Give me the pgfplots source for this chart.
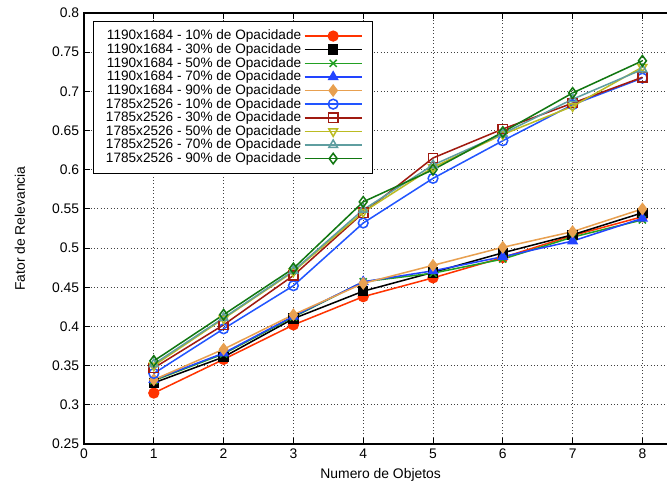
\documentclass[border=0pt]{standalone}
\usepackage{pgfplots}
\pgfplotsset{compat=1.18}
\usepackage{fontspec}
\setmainfont{Liberation Sans}
\definecolor{cA}{HTML}{FF3300}
\definecolor{cB}{HTML}{000000}
\definecolor{cC}{HTML}{22A022}
\definecolor{cD}{HTML}{2244FF}
\definecolor{cE}{HTML}{E8A050}
\definecolor{cF}{HTML}{2255FF}
\definecolor{cG}{HTML}{A01A10}
\definecolor{cH}{HTML}{BBBB22}
\definecolor{cI}{HTML}{5F9EA0}
\definecolor{cJ}{HTML}{117711}
\begin{document}
\begin{tikzpicture}
\begin{axis}[
  scale only axis, width=427.2pt, height=310.3pt,
  xmin=0, xmax=8.5, ymin=0.25, ymax=0.8,
  xtick={0,1,2,3,4,5,6,7,8},
  ytick={0.25,0.3,0.35,0.4,0.45,0.5,0.55,0.6,0.65,0.7,0.75,0.8},
  grid=major, grid style={black!75, dotted, line width=0.6pt},
  axis line style={line width=0.9pt},
  tick style={black, line width=0.6pt},
  /pgf/number format/assume math mode=true,
  yticklabel style={/pgf/number format/fixed, /pgf/number format/precision=2},
  ticklabel style={font=\fontsize{10}{12}\selectfont},
  label style={font=\fontsize{10}{12}\selectfont},
  xlabel={Numero de Objetos},
  ylabel={Fator de Relevancia},
  ylabel style={at={(axis description cs:-0.108,0.5)}, anchor=center},
  legend plot pos=right,
  legend cell align=right,
  legend style={at={(0,1)}, anchor=north west, xshift=6.5pt, yshift=-5.5pt,
    draw=black, line width=0.6pt, fill=white, font=\fontsize{9.8}{11}\selectfont,
    row sep=-2.8pt, inner xsep=7pt, inner ysep=4.5pt},
  legend image code/.code={\draw[mark repeat=2,mark phase=2] plot coordinates {(0cm,0cm) (0.72cm,0cm) (1.44cm,0cm)};},
  every axis plot/.append style={line width=1.1pt},
]
\coordinate (sw) at (rel axis cs:0,0);
\addplot[color=cA, mark=*, mark size=3.5pt] coordinates {(1,0.315) (2,0.358) (3,0.402) (4,0.438) (5,0.462) (6,0.488) (7,0.516) (8,0.540)};
\addlegendentry{1190x1684 - 10\% de Opacidade}
\addplot[color=cB, mark=square*, mark size=3.2pt] coordinates {(1,0.328) (2,0.361) (3,0.410) (4,0.445) (5,0.469) (6,0.494) (7,0.517) (8,0.545)};
\addlegendentry{1190x1684 - 30\% de Opacidade}
\addplot[color=cC, mark=x, mark size=3.6pt] coordinates {(1,0.331) (2,0.365) (3,0.412) (4,0.457) (5,0.468) (6,0.486) (7,0.514) (8,0.536)};
\addlegendentry{1190x1684 - 50\% de Opacidade}
\addplot[color=cD, mark=triangle*, mark size=3.6pt] coordinates {(1,0.332) (2,0.366) (3,0.413) (4,0.457) (5,0.471) (6,0.489) (7,0.509) (8,0.538)};
\addlegendentry{1190x1684 - 70\% de Opacidade}
\addplot[color=cE, mark=diamond*, mark size=3.8pt] coordinates {(1,0.332) (2,0.371) (3,0.415) (4,0.455) (5,0.478) (6,0.501) (7,0.521) (8,0.550)};
\addlegendentry{1190x1684 - 90\% de Opacidade}
\addplot[color=cF, mark=o, mark size=3.5pt] coordinates {(1,0.340) (2,0.397) (3,0.452) (4,0.532) (5,0.589) (6,0.637) (7,0.683) (8,0.717)};
\addlegendentry{1785x2526 - 10\% de Opacidade}
\addplot[color=cG, mark=square, mark size=3.3pt] coordinates {(1,0.347) (2,0.402) (3,0.465) (4,0.545) (5,0.615) (6,0.652) (7,0.685) (8,0.718)};
\addlegendentry{1785x2526 - 30\% de Opacidade}
\addplot[color=cH, mark=triangle, mark size=3.6pt, mark options={rotate=180}] coordinates {(1,0.350) (2,0.410) (3,0.470) (4,0.546) (5,0.603) (6,0.645) (7,0.681) (8,0.731)};
\addlegendentry{1785x2526 - 50\% de Opacidade}
\addplot[color=cI, mark=triangle, mark size=3.6pt] coordinates {(1,0.352) (2,0.411) (3,0.471) (4,0.549) (5,0.606) (6,0.646) (7,0.690) (8,0.728)};
\addlegendentry{1785x2526 - 70\% de Opacidade}
\addplot[color=cJ, mark=diamond, mark size=3.8pt] coordinates {(1,0.356) (2,0.415) (3,0.474) (4,0.559) (5,0.600) (6,0.648) (7,0.698) (8,0.739)};
\addlegendentry{1785x2526 - 90\% de Opacidade}
\end{axis}
\pgfresetboundingbox
\path[use as bounding box] (sw) ++(-60.48pt,-32.4pt) rectangle ++(480.24pt,352.08pt);
\end{tikzpicture}
\end{document}
